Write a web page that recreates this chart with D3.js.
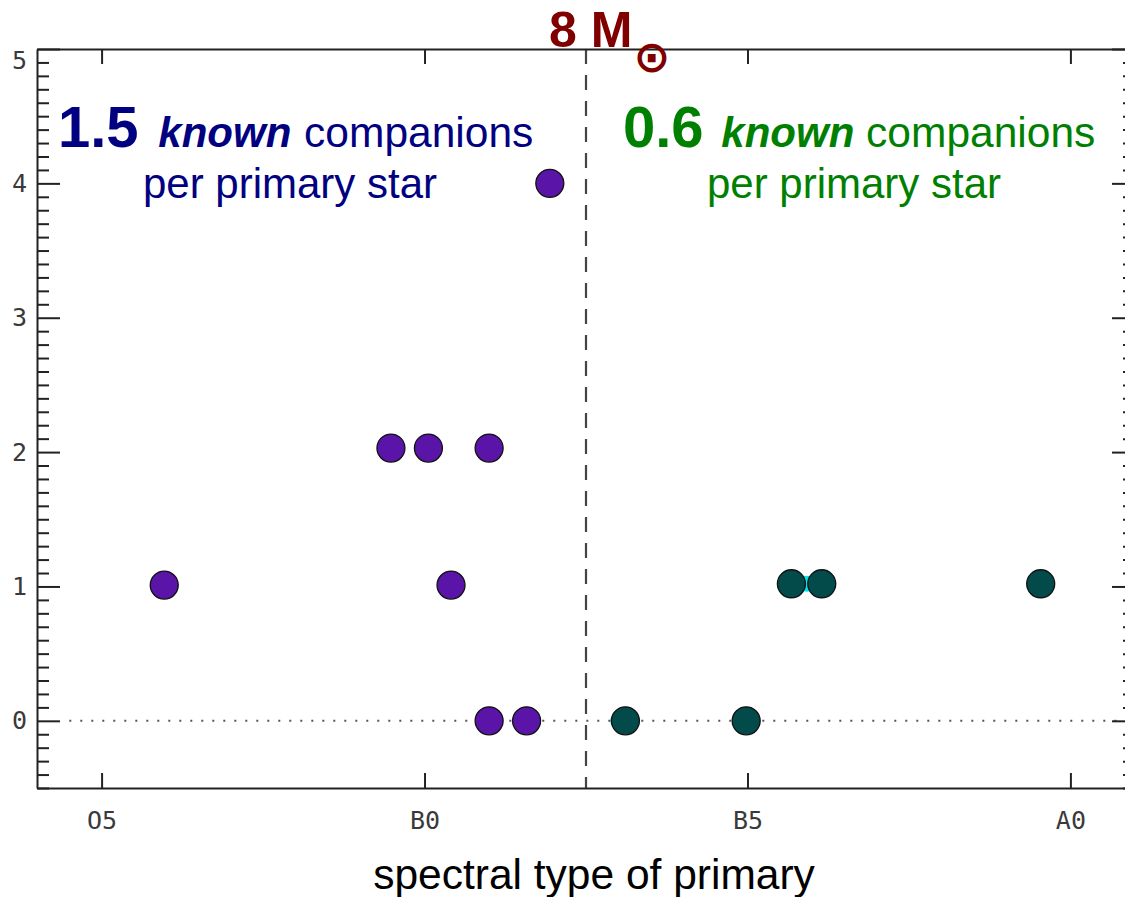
<!DOCTYPE html>
<html><head><meta charset="utf-8">
<script src="https://cdn.jsdelivr.net/npm/d3@7"></script>
<style>body{margin:0;background:#fff} svg{display:block}</style>
</head><body><svg id="c" width="1125" height="897"></svg>
<script>
// ---- data ----
const xTickValues = [0, 5, 10, 15];          // spectral subtype index (O5 = 0)
const xTickLabels = ["O5", "B0", "B5", "A0"];
const yTickValues = [0, 1, 2, 3, 4, 5];
// primaries above 8 Msun (purple)
const highMassX = [0.97, 4.48, 5.06, 6.00, 5.41, 6.94, 6.00, 6.58];
const highMassY = [1.01, 2.03, 2.03, 2.03, 1.01, 4.00, 0.00, 0.00];
// primaries below 8 Msun (dark teal)
const lowMassX = [8.11, 9.98, 10.68, 11.15, 14.54];
const lowMassY = [0.00, 0.00, 1.02, 1.02, 1.02];
// partly hidden cyan points behind the teal ones
const hiddenX = [8.00, 10.92];
const hiddenY = [0.00, 1.02];
const massBoundary = 7.5;
const leftRate = "1.5", rightRate = "0.6";

// ---- layout ----
const svg = d3.select("#c");
const x = d3.scaleLinear().domain([-1, 16]).range([37, 1135]);
const y = d3.scaleLinear().domain([-0.5, 5]).range([788, 49]);
const axisColor = "#222";
const minorY = d3.range(-5, 51).filter(d => d % 10 !== 0).map(d => d / 10);

function styleAxis(g) {
  g.selectAll("path.domain").attr("stroke", axisColor).attr("stroke-width", 2);
  g.selectAll(".tick line").attr("stroke", axisColor).attr("stroke-width", 2);
  g.selectAll(".tick text").attr("fill", "#3a3a3a")
    .style("font-family", "'DejaVu Sans Mono', monospace").style("font-size", "25px");
}

// zero reference line (dotted)
svg.append("line")
  .attr("x1", x(-0.5)).attr("x2", x(16)).attr("y1", y(0)).attr("y2", y(0))
  .attr("stroke", "#555").attr("stroke-width", 2).attr("stroke-dasharray", "2,9");

// mass boundary (dashed)
svg.append("line")
  .attr("x1", x(massBoundary)).attr("x2", x(massBoundary)).attr("y1", y(5)).attr("y2", y(-0.5))
  .attr("stroke", "#444").attr("stroke-width", 2.2).attr("stroke-dasharray", "15,11");

// left axis
const gl = svg.append("g").attr("transform", `translate(${x(-1)},0)`)
  .call(d3.axisLeft(y).tickValues(yTickValues).tickSizeInner(-23).tickSizeOuter(0)
    .tickPadding(10).tickFormat(d3.format("d")));
svg.append("g").attr("transform", `translate(${x(-1)},0)`)
  .call(d3.axisLeft(y).tickValues(minorY).tickSizeInner(-12).tickSizeOuter(0).tickFormat(""))
  .call(g => g.select(".domain").remove()).call(styleAxis);
styleAxis(gl);
gl.selectAll(".tick text").filter(d => d === 5).attr("dy", "0.78em");

// right axis
const gr = svg.append("g").attr("transform", `translate(${x(16)},0)`)
  .call(d3.axisRight(y).tickValues(yTickValues).tickSizeInner(-23).tickSizeOuter(0).tickFormat(""));
svg.append("g").attr("transform", `translate(${x(16)},0)`)
  .call(d3.axisRight(y).tickValues(minorY).tickSizeInner(-12).tickSizeOuter(0).tickFormat(""))
  .call(g => g.select(".domain").remove()).call(styleAxis);
styleAxis(gr);

// bottom axis
const gb = svg.append("g").attr("transform", `translate(0,${y(-0.5)})`)
  .call(d3.axisBottom(x).tickValues(xTickValues).tickSizeInner(-15).tickSizeOuter(0)
    .tickPadding(23).tickFormat((d, i) => xTickLabels[i]));
styleAxis(gb);

// top axis
const gt = svg.append("g").attr("transform", `translate(0,${y(5)})`)
  .call(d3.axisTop(x).tickValues(xTickValues).tickSizeInner(-15).tickSizeOuter(0).tickFormat(""));
styleAxis(gt);

// points
const hidden = hiddenX.map((v, i) => ({x: v, y: hiddenY[i]}));
const high = highMassX.map((v, i) => ({x: v, y: highMassY[i]}));
const low = lowMassX.map((v, i) => ({x: v, y: lowMassY[i]}));
const R = 14;
svg.append("g").selectAll("circle").data(hidden).join("circle")
  .attr("cx", d => x(d.x)).attr("cy", d => y(d.y)).attr("r", 8)
  .attr("fill", "#00e5ee").attr("stroke", "none");
svg.append("g").selectAll("circle").data(high).join("circle")
  .attr("cx", d => x(d.x)).attr("cy", d => y(d.y)).attr("r", R)
  .attr("fill", "#5a14a8").attr("stroke", "#111").attr("stroke-width", 1.3);
svg.append("g").selectAll("circle").data(low).join("circle")
  .attr("cx", d => x(d.x)).attr("cy", d => y(d.y)).attr("r", R)
  .attr("fill", "#024b4a").attr("stroke", "#111").attr("stroke-width", 1.3);

// annotations
const font = "'Liberation Sans', Arial, sans-serif";
const navy = "#000080", green = "#008000", maroon = "#800000";

function rateText(x0, cx2, color, rate, dk, dc) {
  const t = svg.append("text").attr("x", x0).attr("y", 147).attr("fill", color)
    .style("font-family", font);
  t.append("tspan").text(rate).style("font-size", "58px").style("font-weight", "bold");
  t.append("tspan").attr("dx", dk).text(" known").style("font-size", "42px").style("font-weight", "bold")
    .style("font-style", "italic");
  t.append("tspan").attr("dx", dc).text(" companions").style("font-size", "42.5px");
  svg.append("text").attr("x", cx2).attr("y", 198).attr("text-anchor", "middle")
    .attr("fill", color).style("font-family", font).style("font-size", "42px")
    .text("per primary star");
}
rateText(58, 290, navy, leftRate, 8, 1);
rateText(623, 854, green, rightRate, 6, 0);

// 8 Msun label
svg.append("text").attr("x", 549).attr("y", 47).attr("fill", maroon)
  .style("font-family", font).style("font-size", "50px").style("font-weight", "bold")
  .text("8 M");
svg.append("text").attr("x", 652).attr("y", 72).attr("text-anchor", "middle").attr("fill", maroon)
  .style("font-family", "'DejaVu Sans', sans-serif").style("font-size", "44px").style("font-weight", "bold")
  .text("⊙");

// x axis title
svg.append("text").attr("x", 594).attr("y", 889).attr("text-anchor", "middle")
  .attr("fill", "#000").style("font-family", font).style("font-size", "42.5px")
  .text("spectral type of primary");
</script></body></html>
